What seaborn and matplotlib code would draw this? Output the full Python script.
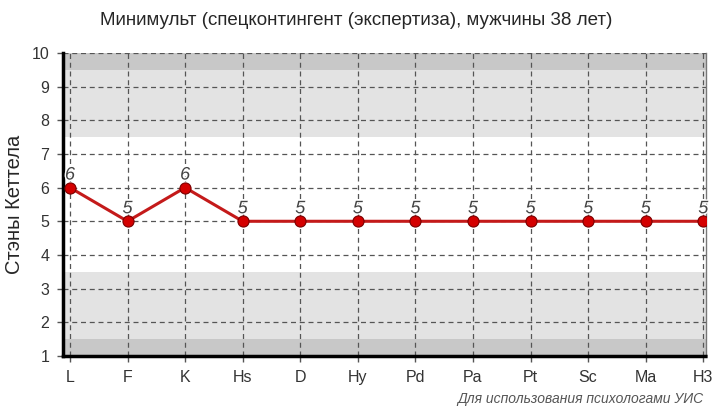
import seaborn as sns
import pandas as pd
import matplotlib.pyplot as plt
import matplotlib
import numpy as np
from matplotlib.ticker import AutoMinorLocator
import matplotlib.patheffects as pe

sns.set_style('white')
matplotlib.rcParams['font.family'] = ['Liberation Sans', 'DejaVu Sans']

scales = ['L', 'F', 'K', 'Hs', 'D', 'Hy', 'Pd', 'Pa', 'Pt', 'Sc', 'Ma', 'H3']
stens = [6, 5, 6, 5, 5, 5, 5, 5, 5, 5, 5, 5]
title = 'Минимульт (спецконтингент (экспертиза), мужчины 38 лет)'
ylabel = 'Стэны Кеттела'
footer = 'Для использования психологами УИС'

df = pd.DataFrame({'scale': scales, 'sten': stens, 'pos': np.arange(len(scales))})

fig = plt.figure(figsize=(7.13, 4.13), dpi=100)
ax = fig.add_axes([0.0884, 0.138, 0.902, 0.734])

# background bands
ax.axhspan(9.5, 10, color='#c8c8c8', zorder=0, lw=0)
ax.axhspan(7.5, 9.5, color='#e3e3e3', zorder=0, lw=0)
ax.axhspan(1.5, 3.5, color='#e3e3e3', zorder=0, lw=0)
ax.axhspan(1, 1.5, color='#c8c8c8', zorder=0, lw=0)

sns.lineplot(data=df, x='pos', y='sten', ax=ax, color='#c41a1a', lw=2.2,
             marker='o', markersize=8, markerfacecolor='#d40000',
             markeredgecolor='#7a0000', markeredgewidth=0.8, zorder=3)

for x, y in zip(df['pos'], df['sten']):
    ax.text(x, y + 0.12, str(y), ha='center', va='bottom', fontsize=13,
            style='italic', color='#444444', zorder=4,
            path_effects=[pe.withStroke(linewidth=2, foreground='white')])

ax.set_xlim(-0.12, 11.05)
ax.set_ylim(1, 10)
ax.set_xticks(df['pos'])
ax.set_xticklabels(scales, fontsize=11.5, color='#333333')
ax.set_yticks(range(1, 11))
ax.set_yticklabels([str(v) for v in range(1, 11)], fontsize=11.5, color='#333333')
ax.xaxis.set_minor_locator(AutoMinorLocator(5))
ax.tick_params(axis='both', which='major', length=4, width=1, color='#555555', pad=6)
ax.tick_params(axis='x', which='minor', length=2, width=1, color='#555555')
ax.tick_params(left=True, bottom=True)

ax.grid(True, which='major', ls=(0, (4, 3)), color='#555555', lw=0.9)
for l in ax.get_xgridlines() + ax.get_ygridlines():
    l.set_zorder(1)

ax.spines['left'].set_linewidth(2.5)
ax.spines['left'].set_color('black')
ax.spines['bottom'].set_linewidth(2.5)
ax.spines['bottom'].set_color('black')
ax.spines['bottom'].set_linestyle((0, (2, 1)))
ax.spines['top'].set_visible(False)
ax.spines['right'].set_color('#777777')
ax.spines['right'].set_linewidth(1)

ax.set_xlabel('')
ax.set_ylabel(ylabel, fontsize=14.5, labelpad=5)
fig.text(0.5, 0.951, title, ha='center', va='center', fontsize=13.5)
fig.text(0.987, 0.035, footer, ha='right', va='center', fontsize=10,
         style='italic', color='#555555')

plt.savefig('out.png', dpi=100)
